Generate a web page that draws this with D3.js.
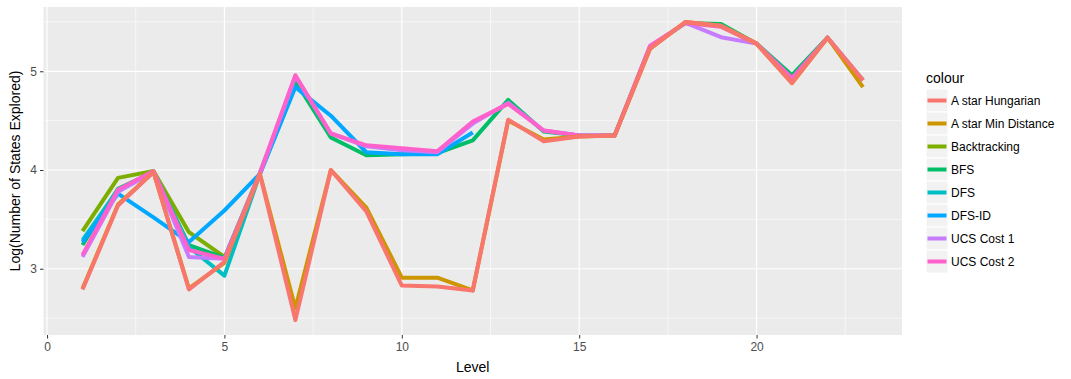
<!DOCTYPE html>
<html>
<head>
<meta charset="utf-8">
<script src="https://cdn.jsdelivr.net/npm/d3@7"></script>
<style>
  body { margin: 0; background: #fff; }
  svg { font-family: "Liberation Sans", Arial, sans-serif; }
</style>
</head>
<body>
<div id="chart"></div>
<script>
// data (log of states explored, per level)
const levels = d3.range(1, 24);

const seriesNames = ["A star Hungarian", "A star Min Distance", "Backtracking", "BFS",
    "DFS", "DFS-ID", "UCS Cost 1", "UCS Cost 2"];
const seriesColors = ["#F8766D", "#CD9600", "#7CAE00", "#00BE67",
    "#00BFC4", "#00A9FF", "#C77CFF", "#FF61CC"];

const aStarHungarian = [2.79, 3.64, 3.98, 2.79, 3.07, 3.96, 2.48, 4.00, 3.58, 2.83, 2.82, 2.78,
    4.51, 4.29, 4.34, 4.35, 5.23, 5.50, 5.46, 5.28, 4.88, 5.34, 4.91];
const aStarMinDistance = [2.80, 3.65, 3.98, 2.80, 3.06, 3.96, 2.60, 4.00, 3.62, 2.91, 2.91, 2.78,
    4.50, 4.31, 4.34, 4.35, 5.23, 5.50, 5.46, 5.28, 4.88, 5.34, 4.84];
const backtracking = [3.38, 3.92, 3.99, 3.37, 3.12];
const bfs = [3.24, 3.81, 3.98, 3.24, 3.11, 3.97, 4.90, 4.33, 4.15, 4.16, 4.17, 4.30,
    4.71, 4.39, 4.35, 4.35, 5.25, 5.49, 5.48, 5.28, 4.96, 5.34, 4.91];
const dfs = [3.29, 3.80, 3.98, 3.22, 2.93, 3.96, 4.85];
const dfsId = [3.27, 3.76, 3.52, 3.27, 3.59, 3.96, 4.84, 4.55, 4.18, 4.16, 4.16, 4.38];
const ucsCost1 = [3.12, 3.78, 3.98, 3.12, 3.10, 3.96, 4.95, 4.37, 4.24, 4.20, 4.18, 4.47,
    4.68, 4.40, 4.35, 4.35, 5.25, 5.49, 5.345, 5.28, 4.92, 5.34, 4.91];
const ucsCost2 = [3.14, 3.80, 3.99, 3.19, 3.10, 3.97, 4.96, 4.37, 4.25, 4.22, 4.19, 4.49,
    4.67, 4.40, 4.35, 4.35, 5.26, 5.49, 5.45, 5.28, 4.93, 5.34, 4.91];

const seriesValues = [aStarHungarian, aStarMinDistance, backtracking, bfs,
    dfs, dfsId, ucsCost1, ucsCost2];

const xTicks = [0, 5, 10, 15, 20];
const yTicks = [3, 4, 5];

// order the lines are drawn in (last on top)
const drawOrder = ["Backtracking", "BFS", "DFS", "DFS-ID", "UCS Cost 1", "UCS Cost 2",
    "A star Min Distance", "A star Hungarian"];

const W = 1071, H = 379;
const panel = { left: 43.5, right: 902, top: 7, bottom: 335 };

const svg = d3.select("#chart").append("svg")
    .attr("width", W).attr("height", H);

const series = seriesNames.map(function (name, i) {
    return {
        name: name,
        color: seriesColors[i],
        points: seriesValues[i].map(function (v, j) { return { x: levels[j], y: v }; })
    };
});

// ggplot-like 5% expansion of the data range
function expand(ext) {
    const pad = (ext[1] - ext[0]) * 0.05;
    return [ext[0] - pad, ext[1] + pad];
}
const allPoints = series.flatMap(function (s) { return s.points; });

const xScale = d3.scaleLinear()
    .domain(expand(d3.extent(allPoints, function (d) { return d.x; })))
    .range([panel.left, panel.right]);
const yScale = d3.scaleLinear()
    .domain(expand(d3.extent(allPoints, function (d) { return d.y; })))
    .range([panel.bottom, panel.top]);

// panel background
svg.append("rect")
    .attr("x", panel.left).attr("y", panel.top)
    .attr("width", panel.right - panel.left)
    .attr("height", panel.bottom - panel.top)
    .attr("fill", "#EBEBEB");

const grid = svg.append("g");
// minor grid
const xMinor = xTicks.map(function (t) { return t + 2.5; });
const yMinor = [2.5, 3.5, 4.5, 5.5];
grid.selectAll("line.xminor").data(xMinor).enter().append("line")
    .attr("x1", xScale).attr("x2", xScale)
    .attr("y1", panel.top).attr("y2", panel.bottom)
    .attr("stroke", "#fff").attr("stroke-width", 0.6);
grid.selectAll("line.yminor").data(yMinor).enter().append("line")
    .attr("y1", yScale).attr("y2", yScale)
    .attr("x1", panel.left).attr("x2", panel.right)
    .attr("stroke", "#fff").attr("stroke-width", 0.6);
// major grid
grid.selectAll("line.xmajor").data(xTicks).enter().append("line")
    .attr("x1", xScale).attr("x2", xScale)
    .attr("y1", panel.top).attr("y2", panel.bottom)
    .attr("stroke", "#fff").attr("stroke-width", 1.2);
grid.selectAll("line.ymajor").data(yTicks).enter().append("line")
    .attr("y1", yScale).attr("y2", yScale)
    .attr("x1", panel.left).attr("x2", panel.right)
    .attr("stroke", "#fff").attr("stroke-width", 1.2);

// axes
const xAxis = svg.append("g")
    .attr("transform", "translate(0," + panel.bottom + ")")
    .call(d3.axisBottom(xScale).tickValues(xTicks).tickFormat(d3.format("d"))
        .tickSize(3.5).tickPadding(4));
const yAxis = svg.append("g")
    .attr("transform", "translate(" + panel.left + ",0)")
    .call(d3.axisLeft(yScale).tickValues(yTicks).tickFormat(d3.format("d"))
        .tickSize(3.5).tickPadding(3));
[xAxis, yAxis].forEach(function (a) {
    a.select(".domain").remove();
    a.selectAll(".tick line").attr("stroke", "#333333");
    a.selectAll(".tick text")
        .attr("fill", "#4D4D4D")
        .style("font-size", "12px")
        .style("font-family", "Liberation Sans, Arial, sans-serif");
});

// axis titles
svg.append("text")
    .attr("x", (panel.left + panel.right) / 2).attr("y", 372)
    .attr("text-anchor", "middle")
    .style("font-size", "14px")
    .text("Level");
svg.append("text")
    .attr("transform", "translate(20," + ((panel.top + panel.bottom) / 2) + ") rotate(-90)")
    .attr("text-anchor", "middle")
    .style("font-size", "14px")
    .text("Log(Number of States Explored)");

// lines
const line = d3.line()
    .x(function (d) { return xScale(d.x); })
    .y(function (d) { return yScale(d.y); });

const ordered = drawOrder.map(function (n) {
    return series.find(function (s) { return s.name === n; });
});
svg.append("g").selectAll("path.series")
    .data(ordered)
    .enter()
    .append("path")
    .attr("class", "series")
    .attr("d", function (d) { return line(d.points); })
    .attr("fill", "none")
    .attr("stroke", function (d) { return d.color; })
    .attr("stroke-width", 4)
    .attr("stroke-linejoin", "round");

// legend
const legend = svg.append("g").attr("transform", "translate(926,0)");
legend.append("text")
    .attr("x", 0).attr("y", 83)
    .style("font-size", "14px")
    .text("colour");
const keyH = 23;
const rows = legend.selectAll("g.key")
    .data(series)
    .enter()
    .append("g")
    .attr("class", "key")
    .attr("transform", function (d, i) { return "translate(0," + (89 + i * keyH) + ")"; });
rows.append("rect")
    .attr("width", 22).attr("height", keyH)
    .attr("fill", "#F2F2F2")
    .attr("stroke", "#fff").attr("stroke-width", 1);
rows.append("line")
    .attr("x1", 1.5).attr("x2", 20.5)
    .attr("y1", keyH / 2).attr("y2", keyH / 2)
    .attr("stroke", function (d) { return d.color; })
    .attr("stroke-width", 4);
rows.append("text")
    .attr("x", 25).attr("y", keyH / 2)
    .attr("dy", "0.35em")
    .style("font-size", "12px")
    .text(function (d) { return d.name; });
</script>
</body>
</html>
